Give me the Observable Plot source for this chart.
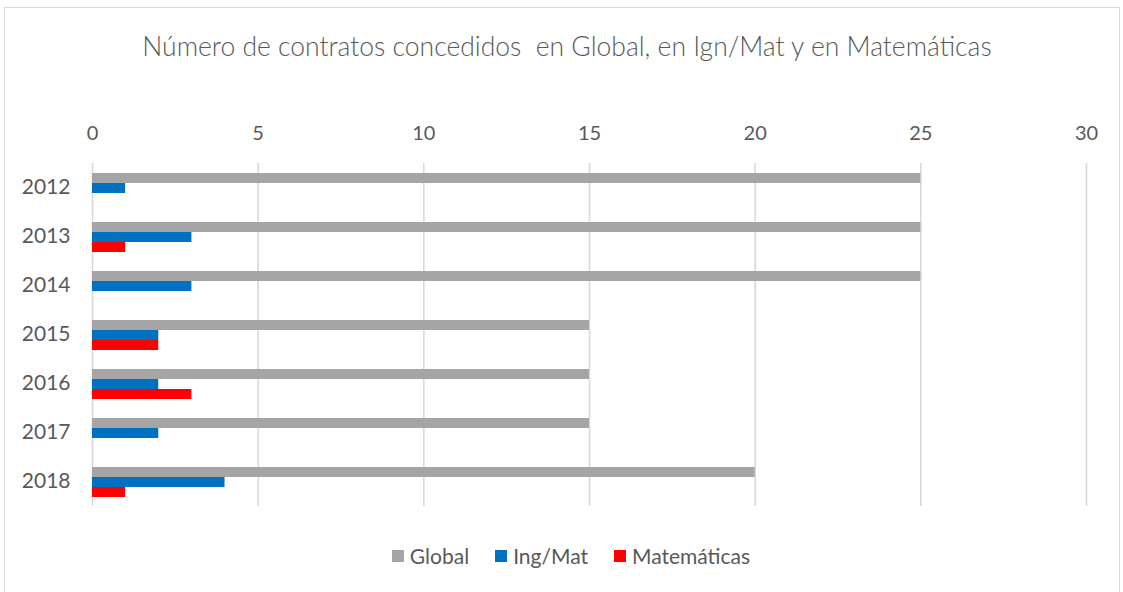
<!DOCTYPE html>
<html><head><meta charset="utf-8">
<script src="https://cdn.jsdelivr.net/npm/d3@7"></script>
<script src="https://cdn.jsdelivr.net/npm/@observablehq/plot@0.6"></script>
<style>
body{margin:0;background:#fff;font-family:Lato,"Open Sans",sans-serif;width:1123px;height:592px;overflow:hidden;position:relative;}
#frame{position:absolute;left:4px;top:7px;width:1116px;height:600px;border:1.5px solid #d9d9d9;box-sizing:border-box;}
#title{position:absolute;left:0;top:30px;width:1134px;text-align:center;font-size:26.5px;color:#595959;white-space:pre;font-weight:300;line-height:32px;}
#chart{position:absolute;left:0;top:99px;}
#legend{position:absolute;top:543px;left:0;width:1142px;display:flex;justify-content:center;font-size:21px;color:#595959;line-height:26px;}
#legend span.item{display:flex;align-items:center;margin:0 13px;}
#legend span.sw{display:inline-block;width:12px;height:12px;margin-right:6px;}
</style></head>
<body>
<div id="frame"></div>
<div id="title"></div>
<div id="chart"></div>
<div id="legend"></div>
<script>
const titleText = "Número de contratos concedidos  en Global, en Ign/Mat y en Matemáticas";
const years = ["2012","2013","2014","2015","2016","2017","2018"];
const seriesNames = ["Global","Ing/Mat","Matemáticas"];
const seriesColors = ["#A5A5A5","#0070C0","#FF0000"];
const globalVals = [25,25,25,15,15,15,20];
const ingMatVals = [1,3,3,2,2,2,4];
const matVals = [0,1,0,2,3,0,1];
const xTicks = [0,5,10,15,20,25,30];

document.getElementById("title").textContent = titleText;

const valuesBySeries = [globalVals, ingMatVals, matVals];
const data = [];
years.forEach((y,i)=>{
  seriesNames.forEach((s,j)=>{
    const v = valuesBySeries[j][i];
    if (v > 0) data.push({year:y, series:s, value:v});
  });
});

const chart = Plot.plot({
  width: 1123,
  height: 422,
  marginLeft: 92,
  marginRight: 37,
  marginTop: 63,
  marginBottom: 14,
  style: {fontFamily: "Lato, 'Open Sans', sans-serif", fontSize: "20px", color: "#595959", background: "transparent"},
  x: {domain: [0,30], axis: null},
  y: {domain: seriesNames, axis: null, paddingInner: 0, paddingOuter: 0.88},
  fy: {domain: years, padding: 0, label: null},
  color: {domain: seriesNames, range: seriesColors},
  marks: [
    Plot.ruleX(xTicks, {stroke: "#d9d9d9", strokeWidth: 1.6}),
    Plot.barX(data, {x: "value", y: "series", fy: "year", fill: "series", inset: 0}),
    Plot.axisX({anchor: "top", ticks: xTicks, tickSize: 0, tickPadding: 24, label: null, fill: "#595959", fontSize: 20, facetAnchor: "top"}),
    Plot.axisFy({anchor: "left", tickSize: 0, tickPadding: 22, label: null, fill: "#595959", fontSize: 21, dy: -1})
  ]
});
document.getElementById("chart").appendChild(chart);

const legend = document.getElementById("legend");
seriesNames.forEach((s,i)=>{
  const item = document.createElement("span");
  item.className = "item";
  const sw = document.createElement("span");
  sw.className = "sw";
  sw.style.background = seriesColors[i];
  item.appendChild(sw);
  item.appendChild(document.createTextNode(s));
  legend.appendChild(item);
});
</script>
</body></html>
